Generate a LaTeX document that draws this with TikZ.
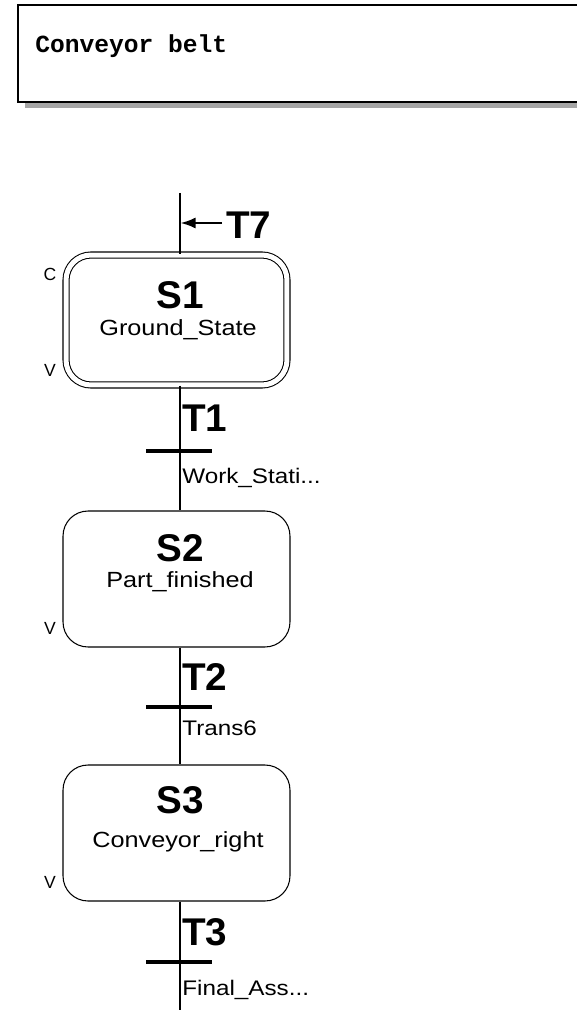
\documentclass[tikz,border=0pt]{standalone}
\usepackage{fontspec}
\setmainfont{Liberation Sans}
\newfontfamily\monofont{Liberation Mono}
\newfontfamily\wideface[FakeStretch=1.15]{Liberation Sans}
\usetikzlibrary{arrows.meta, positioning}

\begin{document}
\begin{tikzpicture}[
    x=0.02cm, y=-0.02cm,
    stepbox/.style={draw, rounded corners=0.5cm, minimum width=4.54cm, minimum height=2.72cm, line width=0.6pt},
    initbox/.style={stepbox, double, double distance=0.1cm, minimum width=4.42cm, minimum height=2.6cm},
    bar/.style={fill=black, inner sep=0pt, minimum width=1.32cm, minimum height=0.08cm},
    bigname/.style={font=\fontsize{22}{24}\selectfont\bfseries, inner sep=0pt},
    smallname/.style={font=\wideface\fontsize{12.5}{14}\selectfont, inner sep=0pt},
    condname/.style={font=\wideface\fontsize{12}{14}\selectfont, inner sep=0pt, anchor=west},
    flag/.style={font=\fontsize{10}{11}\selectfont, inner sep=0pt},
    link/.style={line width=0.6pt}
]
    \useasboundingbox (0,0) rectangle (576,1010);

    % title box
    \fill[gray!70] (25,102) rectangle (600,108);
    \draw[line width=0.8pt, fill=white] (18,5) rectangle (600,102);
    \node[anchor=west, inner sep=0pt, font=\monofont\fontsize{14}{16}\selectfont\bfseries] (title) at (35,46) {Conveyor belt};

    % top and end of the chain
    \coordinate (top) at (180,193);
    \coordinate (bottom) at (180,1010);

    % S1
    \node[initbox] (S1) at (176.5,320) {};
    \node[bigname] (S1n) at (180,295) {S1};
    \node[smallname] (S1t) at (178,330) {Ground\_State};
    \node[flag] (S1c) at (50,274) {C};
    \node[flag] (S1v) at (50,370) {V};

    % T7
    \coordinate (T7a) at (222,223);
    \coordinate (T7b) at (180.5,223);
    \node[bigname, anchor=west] (T7) at (226,225) {T7};

    % T1
    \node[bar] (T1) at (179,451) {};
    \node[bigname, anchor=west] (T1n) at (182,418) {T1};
    \node[condname] (T1t) at (182,478) {Work\_Stati...};

    % S2
    \node[stepbox] (S2) at (176.5,579) {};
    \node[bigname] (S2n) at (180,548) {S2};
    \node[smallname] (S2t) at (180,582) {Part\_finished};
    \node[flag] (S2v) at (50,628) {V};

    % T2
    \node[bar] (T2) at (179,707) {};
    \node[bigname, anchor=west] (T2n) at (182,677) {T2};
    \node[condname] (T2t) at (182,728) {Trans6};

    % S3
    \node[stepbox] (S3) at (176.5,833) {};
    \node[bigname] (S3n) at (180,800) {S3};
    \node[smallname] (S3t) at (178,842) {Conveyor\_right};
    \node[flag] (S3v) at (50,882) {V};

    % T3
    \node[bar] (T3) at (179,962) {};
    \node[bigname, anchor=west] (T3n) at (182,932) {T3};
    \node[condname] (T3t) at (182,990) {Final\_Ass...};

    % links
    \draw[link] (top) -- (top |- S1.north);
    \draw[link] (S1.south -| top) -- (T1.north -| top);
    \draw[link] (T1.south -| top) -- (S2.north -| top);
    \draw[link] (S2.south -| top) -- (T2.north -| top);
    \draw[link] (T2.south -| top) -- (S3.north -| top);
    \draw[link] (S3.south -| top) -- (T3.north -| top);
    \draw[link] (T3.south -| top) -- (bottom);
    \draw[line width=1.2pt, -{Latex[length=0.3cm, width=0.22cm]}] (T7a) -- (T7b);
\end{tikzpicture}
\end{document}
